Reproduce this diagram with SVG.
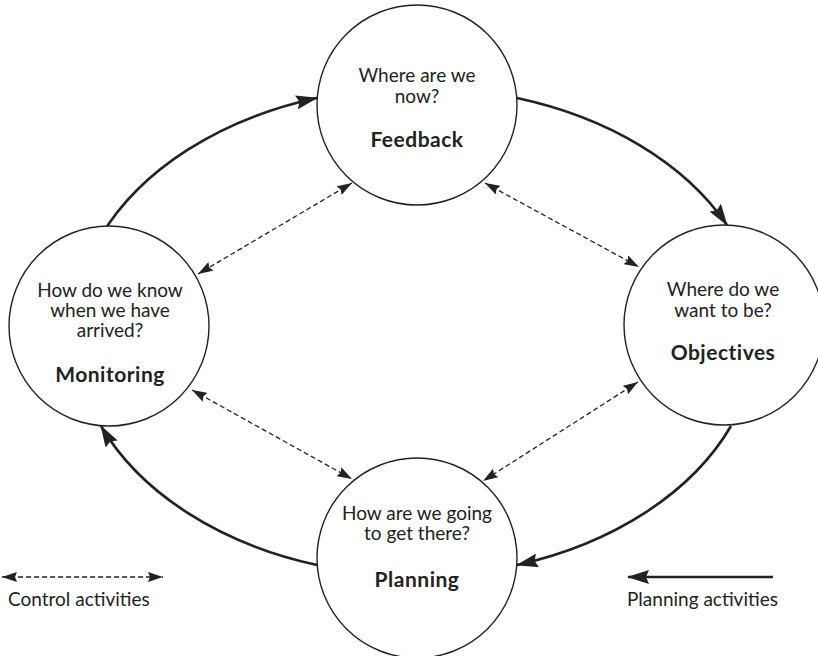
<svg xmlns="http://www.w3.org/2000/svg" width="818" height="656" viewBox="0 0 818 656">
<style>
.node circle{fill:#fff;stroke:#222;stroke-width:1.4}
text{font-family:Lato,"Open Sans","Liberation Sans",sans-serif;font-size:19px;fill:#222;text-anchor:middle}
.b{font-weight:bold;font-size:21px;letter-spacing:0.5px}
.solid{fill:none;stroke:#222;stroke-width:2.6}
.dash{fill:none;stroke:#222;stroke-width:1.3;stroke-dasharray:5 3}
.lg{text-anchor:start}
</style>
<defs>
<marker id="ah" markerUnits="userSpaceOnUse" markerWidth="22" markerHeight="14" refX="21" refY="7" orient="auto">
<path d="M0,0 L22,7 L0,14 L3,7 z" fill="#222"/>
</marker>
<marker id="dh" markerUnits="userSpaceOnUse" markerWidth="15" markerHeight="10" refX="15" refY="5" orient="auto-start-reverse">
<path d="M0,0 L15,5 L0,10 L2,5 z" fill="#222"/>
</marker>
</defs>
<rect width="818" height="656" fill="#fff"/>
<g id="connectors">
<path class="solid" d="M101,236 A343,244 0 0 1 317,98" marker-end="url(#ah)"/>
<path class="solid" d="M517,98 A343,244 0 0 1 727,225" marker-end="url(#ah)"/>
<path class="solid" d="M731,426 A343,244 0 0 1 517,565" marker-end="url(#ah)"/>
<path class="solid" d="M317,565 A343,244 0 0 1 101,426" marker-end="url(#ah)"/>
<path class="dash" d="M352,183 L198,274" marker-start="url(#dh)" marker-end="url(#dh)"/>
<path class="dash" d="M485,183 L639,267" marker-start="url(#dh)" marker-end="url(#dh)"/>
<path class="dash" d="M192,390 L352,479" marker-start="url(#dh)" marker-end="url(#dh)"/>
<path class="dash" d="M638,382 L483,481" marker-start="url(#dh)" marker-end="url(#dh)"/>
</g>
<g id="feedback" class="node">
<circle cx="417" cy="105" r="100"/>
<text x="417" y="82">Where are we</text>
<text x="417" y="103">now?</text>
<text x="417" y="147" class="b">Feedback</text>
</g>
<g id="objectives" class="node">
<circle cx="724" cy="325" r="100"/>
<text x="723" y="296">Where do we</text>
<text x="723" y="317">want to be?</text>
<text x="723" y="360" class="b">Objectives</text>
</g>
<g id="monitoring" class="node">
<circle cx="109" cy="326" r="100"/>
<text x="110" y="297">How do we know</text>
<text x="110" y="317">when we have</text>
<text x="110" y="337">arrived?</text>
<text x="110" y="382" class="b">Monitoring</text>
</g>
<g id="planning" class="node">
<circle cx="417" cy="558" r="100"/>
<text x="417" y="520">How are we going</text>
<text x="417" y="540">to get there?</text>
<text x="417" y="587" class="b">Planning</text>
</g>
<g id="legend">
<path class="dash" d="M2,577 L163,577" marker-start="url(#dh)" marker-end="url(#dh)"/>
<text class="lg" x="8" y="606">Control activities</text>
<path class="solid" d="M773,577 L628,577" marker-end="url(#ah)"/>
<text class="lg" x="627" y="606">Planning activities</text>
</g>
</svg>
